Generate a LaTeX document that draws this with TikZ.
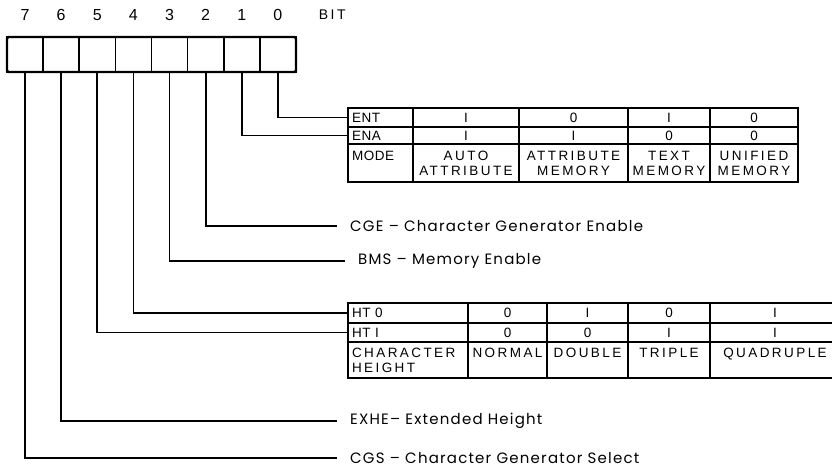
\documentclass[tikz,border=0pt]{standalone}
\usepackage{fontspec}
\setmainfont{Liberation Sans}
\newfontfamily\tabfont[LetterSpace=18]{Liberation Sans}
\newfontfamily\headfont[LetterSpace=4]{Liberation Sans}
\newfontfamily\labfont[LetterSpace=8]{Poppins}
\usetikzlibrary{positioning}

\begin{document}
\begin{tikzpicture}[
  x=1pt,
  y=-1pt,
  reg/.style={
      rectangle,
      draw,
      line width=1.5pt,
      minimum width=36.125pt,
      minimum height=35pt,
      inner sep=0pt,
      outer sep=0pt
  },
  bitno/.style={
      inner sep=0pt,
      font=\fontsize{16}{16}\selectfont
  },
  cell/.style={
      rectangle,
      draw,
      line width=1.4pt,
      anchor=north west,
      inner sep=0pt,
      outer sep=0pt,
      align=center,
      font=\tabfont\fontsize{13.5}{15}\selectfont
  },
  head/.style={
      cell,
      align=left,
      inner xsep=4pt,
      font=\headfont\fontsize{13.5}{15}\selectfont
  },
  frame/.style={
      draw,
      line width=2.2pt
  },
  wire/.style={
      draw,
      line width=1.7pt
  },
  label/.style={
      anchor=west,
      inner xsep=13pt,
      inner ysep=0pt,
      font=\labfont\fontsize{15}{17}\selectfont
  }
]

\useasboundingbox (0,0) rectangle (832,471);

% ==================================================
% Register
% ==================================================

\node[reg] (b7) at (25.06,54.5) {};
\node[reg] (b6) at (61.19,54.5) {};
\node[reg] (b5) at (97.31,54.5) {};
\node[reg] (b4) at (133.44,54.5) {};
\node[reg] (b3) at (169.56,54.5) {};
\node[reg] (b2) at (205.69,54.5) {};
\node[reg] (b1) at (241.81,54.5) {};
\node[reg] (b0) at (277.94,54.5) {};

\draw[frame, rounded corners=1.5pt]
      (b7.north west) rectangle (b0.south east);

\node[bitno, above=16pt of b7] (n7) {7};
\node[bitno, above=16pt of b6] (n6) {6};
\node[bitno, above=16pt of b5] (n5) {5};
\node[bitno, above=16pt of b4] (n4) {4};
\node[bitno, above=16pt of b3] (n3) {3};
\node[bitno, above=16pt of b2] (n2) {2};
\node[bitno, above=16pt of b1] (n1) {1};
\node[bitno, above=16pt of b0] (n0) {0};

\node[bitno, right=36pt of n0,
      font=\tabfont\fontsize{14}{14}\selectfont]
      (bit) {BIT};

% ==================================================
% Mode Table
% ==================================================

\node[head, text width=57pt, minimum height=19pt]
      (ent) at (348,108) {ENT};
\node[cell, minimum width=106pt, minimum height=19pt]
      (ent1) at (413,108) {I};
\node[cell, minimum width=109pt, minimum height=19pt]
      (ent2) at (519,108) {0};
\node[cell, minimum width=82pt, minimum height=19pt]
      (ent3) at (628,108) {I};
\node[cell, minimum width=88pt, minimum height=19pt]
      (ent4) at (710,108) {0};

\node[head, text width=57pt, minimum height=17pt]
      (ena) at (348,127) {ENA};
\node[cell, minimum width=106pt, minimum height=17pt]
      (ena1) at (413,127) {I};
\node[cell, minimum width=109pt, minimum height=17pt]
      (ena2) at (519,127) {I};
\node[cell, minimum width=82pt, minimum height=17pt]
      (ena3) at (628,127) {0};
\node[cell, minimum width=88pt, minimum height=17pt]
      (ena4) at (710,127) {0};

\node[head, text width=57pt, minimum height=38pt]
      (mode) at (348,144) {MODE\\~};
\node[cell, minimum width=106pt, minimum height=38pt]
      (auto) at (413,144) {AUTO\\ATTRIBUTE};
\node[cell, minimum width=109pt, minimum height=38pt]
      (amem) at (519,144) {ATTRIBUTE\\MEMORY};
\node[cell, minimum width=82pt, minimum height=38pt]
      (tmem) at (628,144) {TEXT\\MEMORY};
\node[cell, minimum width=88pt, minimum height=38pt]
      (umem) at (710,144) {UNIFIED\\MEMORY};

\draw[frame] (ent.north west) rectangle (umem.south east);

% ==================================================
% Height Table
% ==================================================

\node[head, text width=112pt, minimum height=20pt]
      (hto) at (348,303) {HT 0};
\node[cell, minimum width=79pt, minimum height=20pt]
      (hto1) at (468,303) {0};
\node[cell, minimum width=81pt, minimum height=20pt]
      (hto2) at (547,303) {I};
\node[cell, minimum width=82pt, minimum height=20pt]
      (hto3) at (628,303) {0};
\node[cell, minimum width=130pt, minimum height=20pt]
      (hto4) at (710,303) {I};

\node[head, text width=112pt, minimum height=19pt]
      (hti) at (348,323) {HT I};
\node[cell, minimum width=79pt, minimum height=19pt]
      (hti1) at (468,323) {0};
\node[cell, minimum width=81pt, minimum height=19pt]
      (hti2) at (547,323) {0};
\node[cell, minimum width=82pt, minimum height=19pt]
      (hti3) at (628,323) {I};
\node[cell, minimum width=130pt, minimum height=19pt]
      (hti4) at (710,323) {I};

\node[head, text width=112pt, minimum height=36pt,
      font=\tabfont\fontsize{13.5}{15}\selectfont]
      (chh) at (348,342) {CHARACTER\\HEIGHT};
\node[cell, minimum width=79pt, minimum height=36pt]
      (normal) at (468,342) {NORMAL\\~};
\node[cell, minimum width=81pt, minimum height=36pt]
      (double) at (547,342) {DOUBLE\\~};
\node[cell, minimum width=82pt, minimum height=36pt]
      (triple) at (628,342) {TRIPLE\\~};
\node[cell, minimum width=130pt, minimum height=36pt]
      (quad) at (710,342) {QUADRUPLE\\~};

\draw[frame] (hto.north west) rectangle (quad.south east);

% ==================================================
% Bit Names
% ==================================================

\node[label] (cge) at (337,226)
      {CGE – Character Generator Enable};
\node[label] (bms) at (345,261)
      {BMS – Memory Enable};
\node[label] (exhe) at (337,421)
      {EXHE– Extended Height};
\node[label] (cgs) at (337,458)
      {CGS – Character Generator Select};

% ==================================================
% Connectors
% ==================================================

\draw[wire] (b0.south) |- (ent.west);
\draw[wire] (b1.south) |- (ena.west);
\draw[wire] (b2.south) |- (cge.west);
\draw[wire] (b3.south) |- (bms.west);
\draw[wire] (b4.south) |- (hto.west);
\draw[wire] (b5.south) |- (hti.west);
\draw[wire] (b6.south) |- (exhe.west);
\draw[wire] (b7.south) |- (cgs.west);

\end{tikzpicture}
\end{document}
